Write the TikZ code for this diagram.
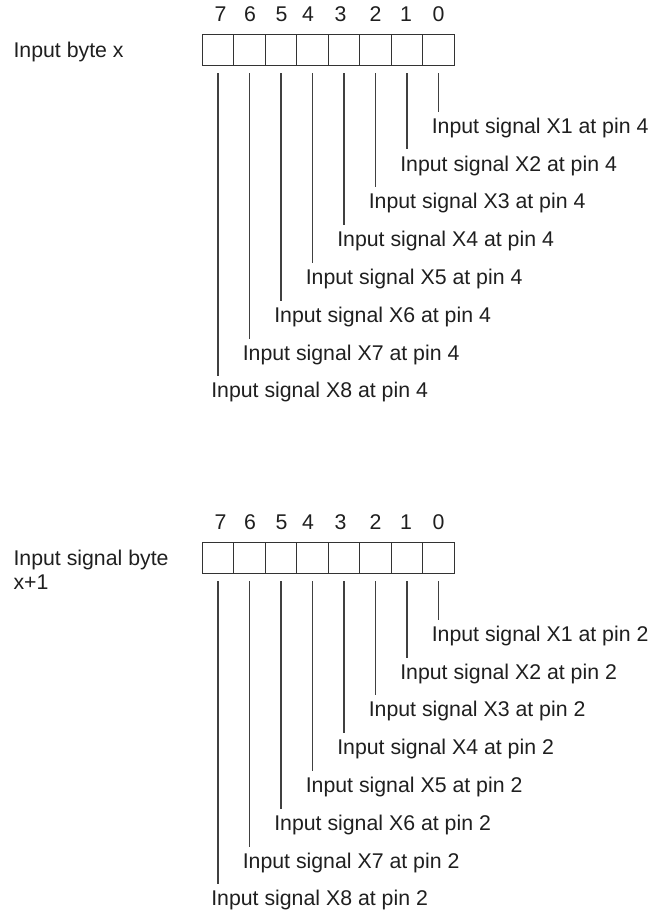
\documentclass[tikz,border=0pt]{standalone}
\usepackage{fontspec}
\setmainfont{Liberation Sans}
\usetikzlibrary{calc}
\begin{document}
\begin{tikzpicture}[x=1pt,y=-1pt,
  cell/.style={draw=black!80,line width=1.2pt,minimum size=31.5pt,inner sep=0},
  bitnum/.style={font=\fontsize{21.3}{25}\selectfont,inner sep=0,text=black!88},
  sig/.style={font=\fontsize{21.3}{25}\selectfont,inner sep=0,anchor=west,text=black!88},
  bytelabel/.style={font=\fontsize{21.3}{24.4}\selectfont,inner sep=0,anchor=west,align=left,text=black!88},
  wire/.style={draw=black!75,line width=1.2pt}]
\useasboundingbox (0,0) rectangle (650,917);
\foreach \sec/\oy/\pin in {t/0/4,b/508/2}{
  \foreach \b/\dx in {7/220.5,6/250,5/281.5,4/308,3/340.5,2/375.5,1/406,0/438.5}{
    \pgfmathsetmacro\cx{218.05+31.5*(7-\b)}
    \pgfmathsetmacro\cy{50.05+\oy}
    \pgfmathsetmacro\ny{14.3+\oy}
    \pgfmathsetmacro\ly{127.7+37.8*\b+\oy}
    \pgfmathsetmacro\lx{\cx-7}
    \pgfmathtruncatemacro\k{\b+1}
    \node[cell] (\sec c\b) at (\cx,\cy) {};
    \node[bitnum] (\sec n\b) at (\dx,\ny) {\b};
    \node[sig] (\sec l\b) at (\lx,\ly) {Input signal X\k\ at pin \pin};
    \draw[wire] ($(\sec c\b.south)+(0,6.7)$) -- ($(\sec c\b.south |- \sec l\b.west)+(0,-16)$);
  }
}
\node[bytelabel] (tb) at (13.3,51.7) {Input byte x};
\node[bytelabel] (bb) at (13.3,569.5) {Input signal byte\\x+1};
\end{tikzpicture}
\end{document}
